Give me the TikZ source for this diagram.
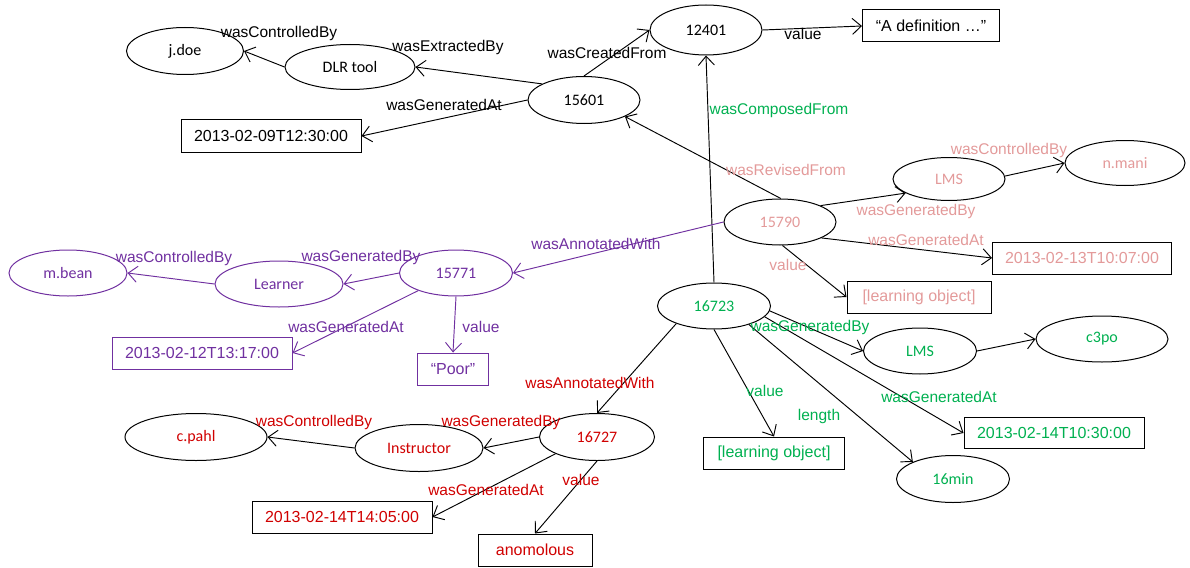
\documentclass[tikz,border=0pt]{standalone}
\usepackage{fontspec}
\setmainfont{Liberation Sans}
\newfontfamily\calfont{Carlito}
\usetikzlibrary{shapes.geometric,arrows.meta}
\definecolor{cpur}{HTML}{7030A0}
\definecolor{cpink}{HTML}{E39A9A}
\definecolor{cgreen}{HTML}{00B050}
\definecolor{cred}{HTML}{D00000}
\tikzset{
 ell/.style={ellipse, draw, line width=1pt, inner sep=0pt, font=\calfont\fontsize{16}{19}\selectfont},
 box/.style={rectangle, draw, line width=1pt, inner sep=0pt, font=\fontsize{16}{19}\selectfont},
 lab/.style={inner sep=0pt, font=\fontsize{15.5}{18}\selectfont},
 arr/.style={-{Straight Barb[length=9pt,width=16pt]}, line width=0.95pt},
}
\begin{document}
\begin{tikzpicture}[x=1pt,y=-1pt]
\useasboundingbox (0,0) rectangle (1190,567);
% black group
\node[ell, minimum width=117pt, minimum height=47pt] (jdoe) at (185,51) {j.doe};
\node[ell, minimum width=130pt, minimum height=45pt] (dlr) at (350,67) {DLR tool};
\node[ell, minimum width=112pt, minimum height=50pt] (n12401) at (706,30) {12401};
\node[box, minimum width=137pt, minimum height=32pt] (def) at (931,26) {“A definition …”};
\node[ell, minimum width=112pt, minimum height=47pt] (n15601) at (584,100) {15601};
\node[box, minimum width=180pt, minimum height=32pt] (t0209) at (271,136) {2013-02-09T12:30:00};
% pink group
\node[ell, text=cpink, minimum width=112pt, minimum height=43pt] (lmsp) at (949,179) {LMS};
\node[ell, text=cpink, minimum width=120pt, minimum height=45pt] (nmani) at (1125,163) {n.mani};
\node[ell, text=cpink, minimum width=112pt, minimum height=46pt] (n15790) at (780,222) {15790};
\node[box, text=cpink, minimum width=179pt, minimum height=32pt] (t0213) at (1082,258) {2013-02-13T10:07:00};
\node[box, text=cpink, minimum width=144pt, minimum height=32pt] (lop) at (919,297) {[learning object]};
% purple group
\node[ell, draw=cpur, text=cpur, minimum width=118pt, minimum height=46pt] (mbean) at (68,273) {m.bean};
\node[ell, draw=cpur, text=cpur, minimum width=128pt, minimum height=46pt] (learner) at (279,284) {Learner};
\node[ell, draw=cpur, text=cpur, minimum width=113pt, minimum height=46pt] (n15771) at (456,273) {15771};
\node[box, draw=cpur, text=cpur, minimum width=180pt, minimum height=32pt] (t0212) at (202,353) {2013-02-12T13:17:00};
\node[box, draw=cpur, text=cpur, minimum width=71pt, minimum height=32pt] (poor) at (453,369) {“Poor”};
% green group
\node[ell, text=cgreen, minimum width=113pt, minimum height=46pt] (n16723) at (714,306) {16723};
\node[ell, text=cgreen, minimum width=113pt, minimum height=46pt] (lmsg) at (920,351) {LMS};
\node[ell, text=cgreen, minimum width=132pt, minimum height=46pt] (c3po) at (1102,339) {c3po};
\node[ell, text=cgreen, minimum width=113pt, minimum height=47pt] (min16) at (953,479) {16min};
\node[box, text=cgreen, minimum width=141pt, minimum height=32pt] (log) at (774,453) {[learning object]};
\node[box, text=cgreen, minimum width=180pt, minimum height=31pt] (t0214b) at (1054,433) {2013-02-14T10:30:00};
% red group
\node[ell, text=cred, minimum width=115pt, minimum height=47pt] (n16727) at (597,437) {16727};
\node[ell, text=cred, minimum width=128pt, minimum height=47pt] (instr) at (419,448) {Instructor};
\node[ell, text=cred, minimum width=142pt, minimum height=47pt] (cpahl) at (196,437) {c.pahl};
\node[box, text=cred, minimum width=180pt, minimum height=32pt] (t0214a) at (342,517) {2013-02-14T14:05:00};
\node[box, text=cred, minimum width=114pt, minimum height=32pt] (anom) at (535,550) {anomolous};

% edges black
\draw[arr] (dlr.west) -- (jdoe.east);
\draw[arr] (n15601.159) -- (dlr.east);
\draw[arr] (n15601.west) -- (t0209.east);
\draw[arr] (n15601.north) -- (n12401.west);
\draw[arr] (n12401.east) -- (def.west);
\draw[arr] (n16723.north) -- (n12401.south);
\draw[arr] (n15790.88) -- (n15601.-22);
\draw[arr] (n15790.22) -- (lmsp.198);
\draw[arr] (lmsp.3) -- (nmani.west);
\draw[arr] (n15790.-21) -- (t0213.west);
\draw[arr] (n15790.-84) -- (lop.west);
% purple edges
\draw[arr, draw=cpur] (n15790.west) -- (n15771.east);
\draw[arr, draw=cpur] (n15771.west) -- (learner.east);
\draw[arr, draw=cpur] (learner.west) -- (mbean.east);
\draw[arr, draw=cpur] (n15771.205) -- (t0212.east);
\draw[arr, draw=cpur] (n15771.south) -- (poor.north);
% green-group edges
\draw[arr] (n16723.-5) -- (lmsg.west);
\draw[arr] (lmsg.east) -- (c3po.west);
\draw[arr] (n16723.-12) -- (t0214b.west);
\draw[arr] (n16723.-28) -- (min16.157);
\draw[arr] (n16723.south) -- (log.north);
\draw[arr] (n16723.205) -- (n16727.north);
% red-group edges
\draw[arr] (n16727.west) -- (instr.east);
\draw[arr] (instr.west) -- (cpahl.east);
\draw[arr] (n16727.202) -- (t0214a.east);
\draw[arr] (n16727.south) -- (anom.north);

% labels
\node[lab] (l1) at (279,33) {wasControlledBy};
\node[lab] (l2) at (448,47) {wasExtractedBy};
\node[lab] (l3) at (444,105) {wasGeneratedAt};
\node[lab] (l4) at (607,53) {wasCreatedFrom};
\node[lab] (l5) at (803,34) {value};
\node[lab, text=cgreen] (l6) at (779,110) {wasComposedFrom};
\node[lab, text=cpink] (l7) at (786,170) {wasRevisedFrom};
\node[lab, text=cpink] (l8) at (916,211) {wasGeneratedBy};
\node[lab, text=cpink] (l9) at (1009,150) {wasControlledBy};
\node[lab, text=cpink] (l10) at (926,240) {wasGeneratedAt};
\node[lab, text=cpink] (l11) at (788,265) {value};
\node[lab, text=cpur] (l12) at (596,244) {wasAnnotatedWith};
\node[lab, text=cpur] (l13) at (361,257) {wasGeneratedBy};
\node[lab, text=cpur] (l14) at (174,258) {wasControlledBy};
\node[lab, text=cpur] (l15) at (346,327) {wasGeneratedAt};
\node[lab, text=cpur] (l16) at (481,327) {value};
\node[lab, text=cgreen] (l17) at (810,327) {wasGeneratedBy};
\node[lab, text=cgreen] (l19) at (939,397) {wasGeneratedAt};
\node[lab, text=cgreen] (l20) at (819,416) {length};
\node[lab, text=cgreen] (l21) at (765,391) {value};
\node[lab, text=cred] (l22) at (590,383) {wasAnnotatedWith};
\node[lab, text=cred] (l23) at (501,422) {wasGeneratedBy};
\node[lab, text=cred] (l24) at (314,422) {wasControlledBy};
\node[lab, text=cred] (l25) at (486,490) {wasGeneratedAt};
\node[lab, text=cred] (l26) at (581,480) {value};
\end{tikzpicture}
\end{document}
